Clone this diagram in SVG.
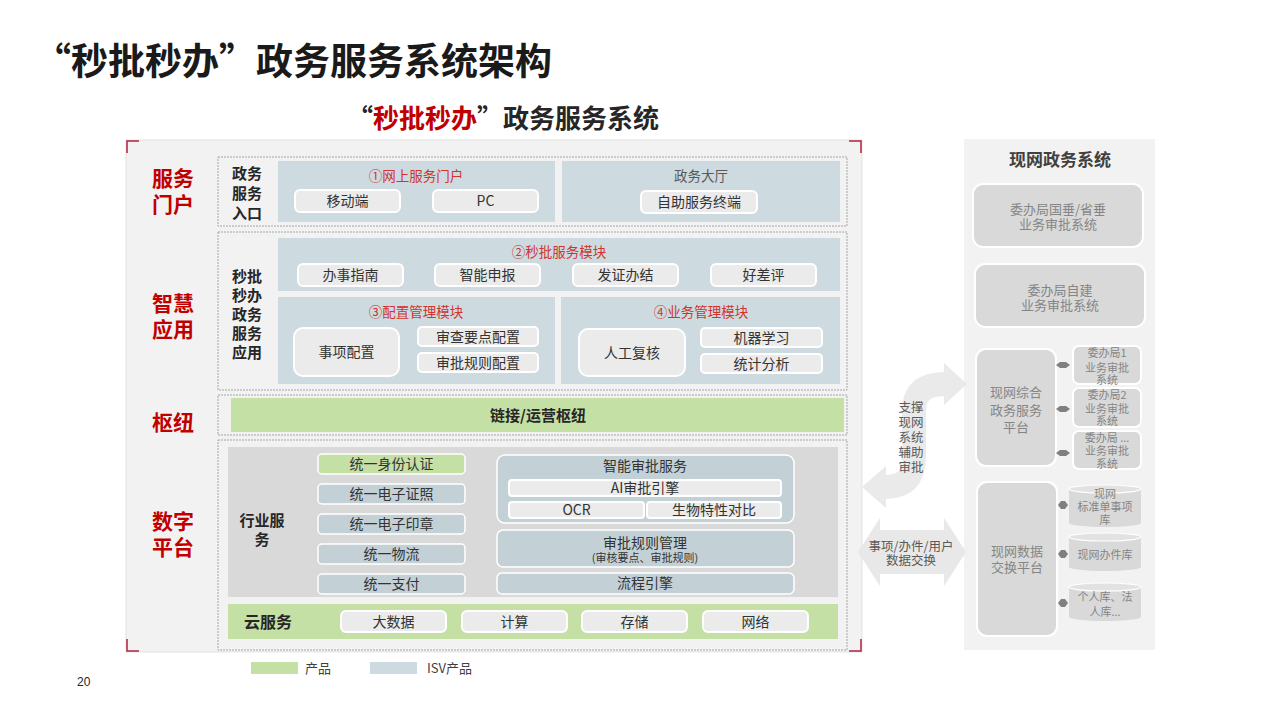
<svg xmlns="http://www.w3.org/2000/svg" width="1280" height="720" viewBox="0 0 1280 720">
<style>
text{font-family:"Noto Sans CJK SC","Noto Sans",sans-serif;}
.h1{font-size:37px;font-weight:700;fill:#1a1a1a;}
.h2{font-size:26px;font-weight:700;fill:#262626;}
.red{fill:#C00000;}
.sec{font-size:21px;font-weight:700;fill:#C00000;text-anchor:middle;}
.rowlbl{font-size:15px;font-weight:700;fill:#262626;text-anchor:middle;}
.mod{font-size:13.5px;fill:#D0342C;text-anchor:middle;}
.modg{font-size:13.5px;fill:#595959;text-anchor:middle;}
.pt{font-size:14px;fill:#333;text-anchor:middle;}
.pts{font-size:11px;fill:#333;text-anchor:middle;}
.bt{font-size:15px;font-weight:700;fill:#262626;text-anchor:middle;}
.row{fill:#F2F2F2;stroke:#A6A6A6;stroke-width:1;stroke-dasharray:2 1;}
.blue{fill:#CDDAE0;}
.blue2{fill:#C3D1D7;stroke:#fff;stroke-width:1.5;}
.green{fill:#C5E0A5;}
.pill{fill:#EBEBEB;stroke:#fff;stroke-width:2;}
.rbox{fill:#D9D9D9;stroke:#fff;stroke-width:2;}
.rt{font-size:13px;fill:#858585;text-anchor:middle;}
.rts{font-size:11px;fill:#858585;text-anchor:middle;}
.arr{fill:#E8E8E8;}
.arrt{font-size:12.5px;fill:#595959;text-anchor:middle;}
.corner{fill:none;stroke:#B22040;stroke-width:1.5;}
.conn{fill:#808080;}
</style>
<rect x="0" y="0" width="1280" height="720" fill="#FFFFFF"/>

<g id="title">
<text class="h1" x="34" y="75">“秒批秒办”政务服务系统架构</text>
<text class="h2" x="347" y="128">“<tspan class="red">秒批秒办</tspan>”政务服务系统</text>
</g>

<g id="main-frame">
<rect x="126" y="140" width="736" height="512" fill="#F2F2F2" stroke="#DCDCDC" stroke-width="0.8"/>
<path class="corner" d="M127,153 V141 H139"/>
<path class="corner" d="M849,141 H861 V153"/>
<path class="corner" d="M127,639 V651 H139"/>
<path class="corner" d="M861,639 V651 H849"/>
</g>

<g id="section-labels">
<text class="sec" x="173" y="186">服务</text>
<text class="sec" x="173" y="212">门户</text>
<text class="sec" x="173" y="311">智慧</text>
<text class="sec" x="173" y="337">应用</text>
<text class="sec" x="173" y="430">枢纽</text>
<text class="sec" x="173" y="529">数字</text>
<text class="sec" x="173" y="555">平台</text>
</g>

<g id="row-portal">
<rect class="row" x="218" y="157" width="629" height="69"/>
<text class="rowlbl" x="247" y="179">政务</text>
<text class="rowlbl" x="247" y="199">服务</text>
<text class="rowlbl" x="247" y="219">入口</text>
<g id="online-portal">
<rect class="blue" x="278" y="161" width="277" height="61"/>
<text class="mod" x="416" y="181">①网上服务门户</text>
<rect class="pill" x="295" y="190" width="105" height="22" rx="5"/>
<text class="pt" x="347.5" y="206">移动端</text>
<rect class="pill" x="433" y="190" width="105" height="22" rx="5"/>
<text class="pt" x="485.5" y="206">PC</text>
</g>
<g id="service-hall">
<rect class="blue" x="562" y="161" width="278" height="61"/>
<text class="modg" x="701" y="181">政务大厅</text>
<rect class="pill" x="641" y="191" width="116" height="22" rx="5"/>
<text class="pt" x="699" y="207">自助服务终端</text>
</g>
</g>

<g id="row-apps">
<rect class="row" x="218" y="232" width="629" height="158"/>
<text class="rowlbl" x="247" y="282">秒批</text>
<text class="rowlbl" x="247" y="301">秒办</text>
<text class="rowlbl" x="247" y="320">政务</text>
<text class="rowlbl" x="247" y="339">服务</text>
<text class="rowlbl" x="247" y="358">应用</text>
<g id="module-2">
<rect class="blue" x="278" y="238" width="562" height="53"/>
<text class="mod" x="559" y="257">②秒批服务模块</text>
<rect class="pill" x="298" y="264" width="105" height="22" rx="5"/>
<text class="pt" x="350.5" y="280">办事指南</text>
<rect class="pill" x="435" y="264" width="105" height="22" rx="5"/>
<text class="pt" x="487.5" y="280">智能申报</text>
<rect class="pill" x="573" y="264" width="105" height="22" rx="5"/>
<text class="pt" x="625.5" y="280">发证办结</text>
<rect class="pill" x="711" y="264" width="105" height="22" rx="5"/>
<text class="pt" x="763.5" y="280">好差评</text>
</g>
<g id="module-3">
<rect class="blue" x="278" y="297" width="277" height="87"/>
<text class="mod" x="416" y="317">③配置管理模块</text>
<rect class="pill" x="294" y="328" width="105" height="48" rx="9"/>
<text class="pt" x="346.5" y="357">事项配置</text>
<rect class="pill" x="418" y="327" width="120" height="19" rx="4"/>
<text class="pt" x="478" y="341.5">审查要点配置</text>
<rect class="pill" x="418" y="353" width="120" height="19" rx="4"/>
<text class="pt" x="478" y="367.5">审批规则配置</text>
</g>
<g id="module-4">
<rect class="blue" x="561" y="297" width="279" height="87"/>
<text class="mod" x="701" y="317">④业务管理模块</text>
<rect class="pill" x="579" y="329" width="106" height="47" rx="9"/>
<text class="pt" x="632" y="357.5">人工复核</text>
<rect class="pill" x="701" y="328" width="121" height="19" rx="4"/>
<text class="pt" x="761.5" y="342.5">机器学习</text>
<rect class="pill" x="701" y="354" width="121" height="19" rx="4"/>
<text class="pt" x="761.5" y="368.5">统计分析</text>
</g>
</g>

<g id="row-hub">
<rect class="row" x="218" y="395" width="629" height="40"/>
<rect class="green" x="231" y="398" width="613" height="34"/>
<text class="bt" x="538" y="421">链接/运营枢纽</text>
</g>

<g id="row-platform">
<rect class="row" x="218" y="440" width="629" height="210"/>
<rect x="228" y="447" width="610" height="150" fill="#D9D9D9"/>
<text class="rowlbl" x="262" y="526">行业服</text>
<text class="rowlbl" x="262" y="545">务</text>
<g id="unified-services">
<rect x="318" y="454" width="147" height="20" rx="4" fill="#C5E0A5" stroke="#fff" stroke-width="1.5"/>
<text class="pt" x="391.5" y="469">统一身份认证</text>
<rect class="blue2" x="318" y="484" width="147" height="20" rx="4"/>
<text class="pt" x="391.5" y="499">统一电子证照</text>
<rect class="blue2" x="318" y="514" width="147" height="20" rx="4"/>
<text class="pt" x="391.5" y="529">统一电子印章</text>
<rect class="blue2" x="318" y="544" width="147" height="20" rx="4"/>
<text class="pt" x="391.5" y="559">统一物流</text>
<rect class="blue2" x="318" y="574" width="147" height="20" rx="4"/>
<text class="pt" x="391.5" y="589">统一支付</text>
</g>
<g id="smart-approval">
<rect class="blue2" x="497" y="455" width="297" height="68" rx="8"/>
<text class="pt" x="645" y="471">智能审批服务</text>
<rect class="pill" x="509" y="480" width="272" height="16" rx="3" stroke-width="1.5"/>
<text class="pt" x="645" y="493">AI审批引擎</text>
<rect class="pill" x="509" y="502" width="135" height="16" rx="3" stroke-width="1.5"/>
<text class="pt" x="576.5" y="515">OCR</text>
<rect class="pill" x="647" y="502" width="134" height="16" rx="3" stroke-width="1.5"/>
<text class="pt" x="714" y="515">生物特性对比</text>
</g>
<g id="rule-mgmt">
<rect class="blue2" x="497" y="530" width="297" height="37" rx="6"/>
<text class="pt" x="645" y="548">审批规则管理</text>
<text class="pts" x="645" y="562">(审核要点、审批规则)</text>
</g>
<g id="workflow">
<rect class="blue2" x="497" y="573" width="297" height="21" rx="5"/>
<text class="pt" x="645" y="588">流程引擎</text>
</g>
<g id="cloud">
<rect class="green" x="228" y="604" width="610" height="35"/>
<text class="bt" x="268" y="628" style="font-size:16px">云服务</text>
<rect class="pill" x="341" y="611" width="105" height="21" rx="5"/>
<text class="pt" x="393.5" y="627">大数据</text>
<rect class="pill" x="462" y="611" width="105" height="21" rx="5"/>
<text class="pt" x="514.5" y="627">计算</text>
<rect class="pill" x="582" y="611" width="105" height="21" rx="5"/>
<text class="pt" x="634.5" y="627">存储</text>
<rect class="pill" x="703" y="611" width="105" height="21" rx="5"/>
<text class="pt" x="755.5" y="627">网络</text>
</g>
</g>

<g id="legend">
<rect class="green" x="251" y="662" width="47" height="12"/>
<text x="305" y="673" style="font-size:13px;fill:#404040">产品</text>
<rect class="blue" x="370" y="662" width="47" height="12"/>
<text x="427" y="673" style="font-size:13px;fill:#404040">ISV产品</text>
</g>
<text id="page-number" x="77" y="686" style="font-family:'Liberation Sans',sans-serif;font-size:12px;fill:#262626">20</text>

<g id="existing-system">
<rect x="964" y="139" width="191" height="511" fill="#F2F2F2"/>
<text x="1060" y="166" style="font-size:17px;font-weight:700;fill:#404040;text-anchor:middle">现网政务系统</text>
<g id="vertical-systems">
<rect class="rbox" x="973" y="184" width="170" height="63" rx="10"/>
<text class="rt" x="1058" y="214">委办局国垂/省垂</text>
<text class="rt" x="1058" y="229">业务审批系统</text>
</g>
<g id="self-built">
<rect class="rbox" x="975" y="264" width="170" height="63" rx="10"/>
<text class="rt" x="1060" y="295">委办局自建</text>
<text class="rt" x="1060" y="310">业务审批系统</text>
</g>
<g id="integrated-platform">
<rect class="rbox" x="976" y="349" width="80" height="117" rx="10"/>
<text class="rt" x="1016" y="397">现网综合</text>
<text class="rt" x="1016" y="415">政务服务</text>
<text class="rt" x="1016" y="432">平台</text>
</g>
<g id="bureau-1">
<rect class="rbox" x="1073" y="346" width="68" height="38" rx="6"/>
<text class="rts" x="1107" y="357">委办局1</text>
<text class="rts" x="1107" y="372">业务审批</text>
<text class="rts" x="1107" y="384">系统</text>
</g>
<g id="bureau-2">
<rect class="rbox" x="1073" y="388" width="68" height="39" rx="6"/>
<text class="rts" x="1107" y="399">委办局2</text>
<text class="rts" x="1107" y="413">业务审批</text>
<text class="rts" x="1107" y="425">系统</text>
</g>
<g id="bureau-n">
<rect class="rbox" x="1073" y="431" width="68" height="38" rx="6"/>
<text class="rts" x="1107" y="442">委办局 ...</text>
<text class="rts" x="1107" y="455">业务审批</text>
<text class="rts" x="1107" y="468">系统</text>
</g>
<g id="exchange-platform">
<rect class="rbox" x="977" y="482" width="80" height="154" rx="10"/>
<text class="rt" x="1017" y="556">现网数据</text>
<text class="rt" x="1017" y="572">交换平台</text>
</g>
<g id="db-items">
<path d="M1069,489 A36,4 0 0 1 1141,489 V523 A36,4 0 0 1 1069,523 Z" fill="#D9D9D9"/>
<ellipse cx="1105" cy="489" rx="36" ry="4" fill="#E2E2E2" stroke="#fff" stroke-width="1.2"/>
<text class="rts" x="1105" y="498">现网</text>
<text class="rts" x="1105" y="511">标准单事项</text>
<text class="rts" x="1105" y="524">库</text>
</g>
<g id="db-cases">
<path d="M1069,537 A36,4 0 0 1 1141,537 V567 A36,4 0 0 1 1069,567 Z" fill="#D9D9D9"/>
<ellipse cx="1105" cy="537" rx="36" ry="4" fill="#E2E2E2" stroke="#fff" stroke-width="1.2"/>
<text class="rts" x="1105" y="559">现网办件库</text>
</g>
<g id="db-persons">
<path d="M1069,587 A36,4 0 0 1 1141,587 V617 A36,4 0 0 1 1069,617 Z" fill="#D9D9D9"/>
<ellipse cx="1105" cy="587" rx="36" ry="4" fill="#E2E2E2" stroke="#fff" stroke-width="1.2"/>
<text class="rts" x="1105" y="601">个人库、法</text>
<text class="rts" x="1105" y="616">人库...</text>
</g>
</g>

<g id="connectors">
<path d="M884,487 C908,487 914,474 914,455 L914,412 C914,394 922,384 946,384" fill="none" stroke="#EAEAEA" stroke-width="24"/>
<polygon class="arr" points="944,363 967,384 944,405" style="fill:#EAEAEA"/>
<polygon class="arr" points="886,466 862,487 886,508" style="fill:#EAEAEA"/>
<text class="arrt" x="911" y="412">支撑</text>
<text class="arrt" x="911" y="427">现网</text>
<text class="arrt" x="911" y="442">系统</text>
<text class="arrt" x="911" y="457">辅助</text>
<text class="arrt" x="911" y="472">审批</text>
<polygon class="arr" points="858,552 880,518 880,530 944,530 944,518 966,552 944,586 944,574 880,574 880,586"/>
<text class="arrt" x="911" y="551">事项/办件/用户</text>
<text class="arrt" x="911" y="565">数据交换</text>
<polygon class="conn" points="1056,365 1060,362 1066,362 1070,365 1066,368 1060,368"/>
<polygon class="conn" points="1056,409 1060,406 1066,406 1070,409 1066,412 1060,412"/>
<polygon class="conn" points="1056,453 1060,450 1066,450 1070,453 1066,456 1060,456"/>
<polygon class="conn" points="1058,505 1061,501 1065,501 1068,505 1065,509 1061,509"/>
<polygon class="conn" points="1058,554 1061,550 1065,550 1068,554 1065,558 1061,558"/>
<polygon class="conn" points="1058,603 1061,599 1065,599 1068,603 1065,607 1061,607"/>
</g>
</svg>
